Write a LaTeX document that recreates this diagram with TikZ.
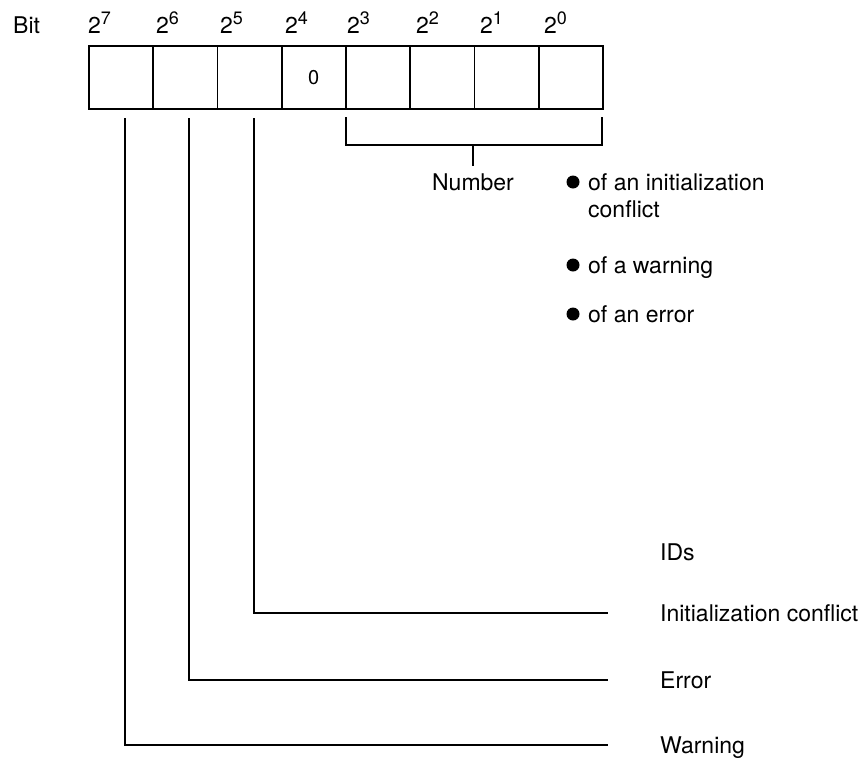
\documentclass[tikz,border=0pt]{standalone}
\usepackage{fontspec}
\setmainfont{TeX Gyre Heros}
\begin{document}
\begin{tikzpicture}[x=1pt,y=-1pt,
  cell/.style={draw,line width=1.8pt,minimum width=64.25pt,minimum height=63pt,inner sep=0pt,anchor=north west},
  conn/.style={line width=1.8pt},
  lbl/.style={anchor=base west,inner sep=0pt,font=\fontsize{23}{26}\selectfont},
  bitlbl/.style={anchor=base west,inner sep=0pt,font=\fontsize{23}{26}\selectfont},
  dot/.style={circle,fill=black,minimum size=13pt,inner sep=0pt}]
\useasboundingbox (0,0) rectangle (863,758);
% cells
\node[cell] (c7) at (88,45) {};
\node[cell] (c6) at (152.25,45) {};
\node[cell] (c5) at (216.5,45) {};
\node[cell] (c4) at (280.75,45) {\fontsize{20}{22}\selectfont 0};
\node[cell] (c3) at (345,45) {};
\node[cell] (c2) at (409.25,45) {};
\node[cell] (c1) at (473.5,45) {};
\node[cell] (c0) at (537.75,45) {};
% header
\node[bitlbl] (bit) at (13,33) {Bit};
\node[bitlbl] (b7) at (88,33) {2\raisebox{8.5pt}{\fontsize{18}{20}\selectfont 7}};
\node[bitlbl] (b6) at (156,33) {2\raisebox{8.5pt}{\fontsize{18}{20}\selectfont 6}};
\node[bitlbl] (b5) at (220,33) {2\raisebox{8.5pt}{\fontsize{18}{20}\selectfont 5}};
\node[bitlbl] (b4) at (285,33) {2\raisebox{8.5pt}{\fontsize{18}{20}\selectfont 4}};
\node[bitlbl] (b3) at (347,33) {2\raisebox{8.5pt}{\fontsize{18}{20}\selectfont 3}};
\node[bitlbl] (b2) at (416,33) {2\raisebox{8.5pt}{\fontsize{18}{20}\selectfont 2}};
\node[bitlbl] (b1) at (480,33) {2\raisebox{8.5pt}{\fontsize{18}{20}\selectfont 1}};
\node[bitlbl] (b0) at (544,33) {2\raisebox{8.5pt}{\fontsize{18}{20}\selectfont 0}};
% bracket
\coordinate (brL) at (346,117);
\coordinate (brR) at (602,117);
\coordinate (brM) at (473,145);
\coordinate (brT) at (473,166);
\draw[conn] (brL) |- (brR |- brM) -- (brR);
\draw[conn] (brM) -- (brT);
\node[lbl,anchor=base] (num) at (473,190) {Number};
% bullets
\node[dot] (d1) at (573,182) {};
\node[lbl] (t1) at (588,190) {of an initialization};
\node[lbl] (t1b) at (588,217) {conflict};
\node[dot] (d2) at (573,265) {};
\node[lbl] (t2) at (588,273) {of a warning};
\node[dot] (d3) at (573,314) {};
\node[lbl] (t3) at (588,322) {of an error};
% IDs
\node[lbl] (ids) at (660,560) {IDs};
% connectors
\coordinate (s5) at (254,118);
\coordinate (s6) at (189,118);
\coordinate (s7) at (125,118);
\coordinate (e5) at (608,613);
\coordinate (e6) at (608,680);
\coordinate (e7) at (608,745);
\draw[conn] (s5) |- (e5);
\draw[conn] (s6) |- (e6);
\draw[conn] (s7) |- (e7);
\node[lbl] (l5) at (660,621) {Initialization conflict};
\node[lbl] (l6) at (660,688) {Error};
\node[lbl] (l7) at (660,753) {Warning};
\end{tikzpicture}
\end{document}
